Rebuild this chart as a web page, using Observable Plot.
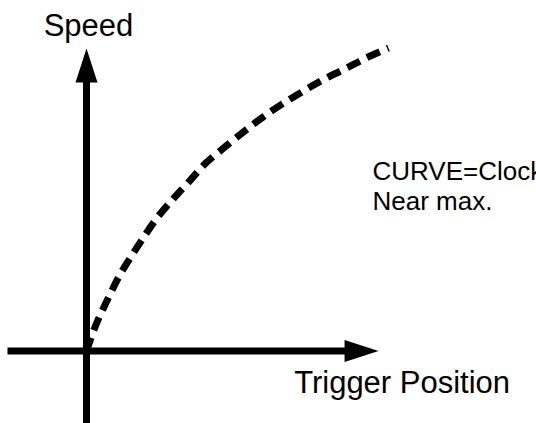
<!DOCTYPE html>
<html>
<head>
<meta charset="utf-8">
<script src="https://cdn.jsdelivr.net/npm/d3@7"></script>
<script src="https://cdn.jsdelivr.net/npm/@observablehq/plot@0.6"></script>
<style>
  html, body { margin: 0; padding: 0; background: #fff; }
  #chart svg { display: block; }
</style>
</head>
<body>
<div id="chart"></div>
<script>
// Curve readings: trigger position (%) vs speed (%)
const triggerPosition = [0, 2.3, 4.0, 7.3, 10.6, 14.6, 18.9, 23.5, 28.8, 33.4, 39.7, 46.4, 52.6, 58.3, 64.6, 71.5, 78.5, 85.8, 93.0, 100];
const speed           = [0, 6.6, 10.7, 17.7, 24.3, 30.9, 37.5, 44.1, 50.3, 55.3, 62.2, 67.8, 72.8, 77.1, 81.4, 85.6, 89.6, 93.2, 96.9, 100];

// Axis extents (data units)
const xAxisExtent = [-26, 96.7];
const yAxisExtent = [-25, 99.8];

// Labels
const yTitle = "Speed";
const xTitle = "Trigger Position";
const note = ["CURVE=Clockwise", "Near max."];

const W = 536, H = 423;
const xDomain = [-28.48, 149.0];
const yDomain = [-23.93, 115.68];
const pxX = W / (xDomain[1] - xDomain[0]);
const pxY = H / (yDomain[1] - yDomain[0]);
const headLen = 34, headHalf = 11;

const curve = triggerPosition.map((x, i) => ({x, y: speed[i]}));

const arrowSymbol = {
  draw(ctx) {
    ctx.moveTo(0, 0);
    ctx.lineTo(-headHalf, headLen);
    ctx.lineTo(headHalf, headLen);
    ctx.closePath();
  }
};

const heads = [
  {x: xAxisExtent[1], y: 0, rot: 90},
  {x: 0, y: yAxisExtent[1], rot: 0}
];

const font = "Liberation Sans, Arial, Helvetica, sans-serif";

const chart = Plot.plot({
  width: W,
  height: H,
  margin: 0,
  style: {background: "white", fontFamily: font},
  x: {domain: xDomain, axis: null},
  y: {domain: yDomain, axis: null},
  marks: [
    Plot.ruleY([0], {x1: xAxisExtent[0], x2: xAxisExtent[1] - (headLen - 1) / pxX, stroke: "black", strokeWidth: 7}),
    Plot.ruleX([0], {y1: yAxisExtent[0], y2: yAxisExtent[1] - (headLen - 1) / pxY, stroke: "black", strokeWidth: 7}),
    Plot.dot(heads, {x: "x", y: "y", rotate: "rot", symbol: arrowSymbol, fill: "black", stroke: "none", r: 10}),
    Plot.line(curve, {x: "x", y: "y", curve: "catmull-rom", stroke: "black", strokeWidth: 7, strokeDasharray: "14,8", strokeLinecap: "butt"}),
    Plot.text([yTitle], {x: 0.66, y: 104.1, text: d => d, lineAnchor: "bottom", textAnchor: "middle", fontSize: 31, fill: "black"}),
    Plot.text([xTitle], {x: 104.5, y: -13.7, text: d => d, lineAnchor: "bottom", textAnchor: "middle", fontSize: 31, fill: "black"}),
    Plot.text([note.join("\n")], {x: 94.7, y: 46.4, text: d => d, lineAnchor: "bottom", textAnchor: "start", fontSize: 26, lineHeight: 1.154, fill: "black"})
  ]
});
document.getElementById("chart").append(chart);
</script>
</body>
</html>
